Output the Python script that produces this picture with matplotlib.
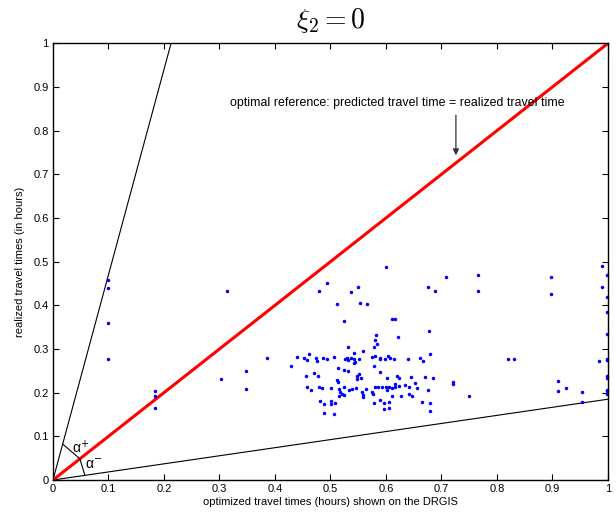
import matplotlib
matplotlib.use("Agg")
import matplotlib.pyplot as plt
import numpy as np

plt.rcParams['font.family'] = ['Liberation Sans', 'DejaVu Sans']
plt.rcParams['mathtext.fontset'] = 'cm'

# scatter data: (optimized time, realized time)
x_vals = [
    0.600, 0.709, 0.765, 0.765, 0.494, 0.480, 0.550, 0.537, 0.675, 0.689,
    0.512, 0.554, 0.565, 0.524, 0.611, 0.617, 0.678, 0.582, 0.580, 0.584,
    0.622, 0.579, 0.532, 0.680, 0.461, 0.558, 0.543,
    0.439, 0.452, 0.458, 0.474, 0.476, 0.486, 0.494, 0.507, 0.527, 0.529,
    0.532, 0.537, 0.542, 0.545, 0.551, 0.542, 0.575, 0.581, 0.589, 0.590,
    0.598, 0.604, 0.608, 0.614, 0.640, 0.661, 0.667, 0.429, 0.579, 0.524,
    0.532, 0.589, 0.470, 0.477, 0.456, 0.513, 0.551, 0.548, 0.555, 0.548,
    0.512, 0.514, 0.602, 0.620, 0.624, 0.645, 0.670, 0.684, 0.652, 0.721,
    0.721, 0.457, 0.464, 0.479, 0.485, 0.501, 0.516, 0.525, 0.533, 0.539,
    0.546, 0.518, 0.521, 0.516, 0.524, 0.557, 0.559, 0.558, 0.564, 0.575,
    0.576, 0.580, 0.586, 0.593, 0.600, 0.602, 0.606, 0.611, 0.616, 0.616,
    0.624, 0.634, 0.641, 0.655, 0.611, 0.627, 0.642, 0.646, 0.589, 0.596,
    0.596, 0.605, 0.605, 0.578, 0.482, 0.489, 0.501, 0.501, 0.508, 0.488,
    0.506, 0.675, 0.664, 0.680, 0.680, 0.750,
    0.819, 0.831, 0.898, 0.898, 0.910, 0.910, 0.924, 0.954, 0.954, 0.984,
    0.990, 0.990, 0.999, 0.999, 0.999, 0.999, 0.999, 0.999, 0.999, 0.999,
    0.999, 0.999, 0.999,
    0.100, 0.100, 0.100, 0.100, 0.313, 0.184, 0.184, 0.184, 0.386, 0.347,
    0.347, 0.303,
]
y_vals = [
    0.488, 0.464, 0.469, 0.433, 0.450, 0.433, 0.442, 0.430, 0.442, 0.432,
    0.404, 0.406, 0.404, 0.364, 0.368, 0.368, 0.341, 0.333, 0.320, 0.312,
    0.327, 0.305, 0.305, 0.289, 0.289, 0.295, 0.291,
    0.281, 0.279, 0.275, 0.279, 0.272, 0.280, 0.276, 0.282, 0.276, 0.280,
    0.275, 0.279, 0.278, 0.271, 0.277, 0.268, 0.282, 0.285, 0.276, 0.280,
    0.277, 0.283, 0.279, 0.277, 0.278, 0.279, 0.273, 0.261, 0.260, 0.252,
    0.250, 0.247, 0.245, 0.238, 0.237, 0.256, 0.243, 0.237, 0.234, 0.231,
    0.230, 0.224, 0.234, 0.237, 0.233, 0.236, 0.236, 0.234, 0.222, 0.224,
    0.220, 0.214, 0.207, 0.214, 0.210, 0.211, 0.208, 0.213, 0.207, 0.208,
    0.211, 0.202, 0.197, 0.192, 0.194, 0.201, 0.195, 0.189, 0.208, 0.201,
    0.196, 0.213, 0.214, 0.213, 0.212, 0.207, 0.214, 0.210, 0.214, 0.220,
    0.216, 0.218, 0.214, 0.211, 0.192, 0.193, 0.198, 0.192, 0.184, 0.176,
    0.163, 0.178, 0.166, 0.176, 0.182, 0.175, 0.181, 0.173, 0.176, 0.154,
    0.151, 0.205, 0.178, 0.176, 0.158, 0.192,
    0.276, 0.276, 0.465, 0.427, 0.227, 0.203, 0.211, 0.202, 0.179, 0.273,
    0.490, 0.443, 0.470, 0.418, 0.384, 0.335, 0.278, 0.274, 0.237, 0.233,
    0.207, 0.204, 0.197,
    0.458, 0.439, 0.360, 0.276, 0.432, 0.204, 0.192, 0.164, 0.279, 0.250,
    0.209, 0.232,
]

upper_slope = 4.70   # alpha+ boundary
lower_slope = 0.185  # alpha- boundary
ticks = [0, 0.1, 0.2, 0.3, 0.4, 0.5, 0.6, 0.7, 0.8, 0.9, 1]
tick_labels = ['0', '0.1', '0.2', '0.3', '0.4', '0.5', '0.6', '0.7', '0.8', '0.9', '1']

fig = plt.figure(figsize=(6.16, 5.12), dpi=100)
ax = fig.add_axes([0.086, 0.0625, 0.901, 0.853])

# boundary lines
ax.plot([0, 1 / upper_slope], [0, 1], color='black', lw=0.8)
ax.plot([0, 1], [0, lower_slope], color='black', lw=0.8)
# optimal reference
ax.plot([0, 1], [0, 1], color='red', lw=2.2)

# angle markers
ax.plot([0.0175, 0.0485], [0.0823, 0.0485], color='black', lw=0.8)
ax.plot([0.0485, 0.0575], [0.0485, 0.0106], color='black', lw=0.8)
ax.text(0.034, 0.075, 'α$^{+}$', fontsize=10, ha='left', va='center',
        math_fontfamily='dejavusans')
ax.text(0.058, 0.034, 'α$^{-}$', fontsize=10, ha='left', va='center',
        math_fontfamily='dejavusans')

ax.plot(x_vals, y_vals, linestyle='none', marker='.', color='blue', markersize=3, clip_on=False)

ax.text(0.621, 0.863, 'optimal reference: predicted travel time = realized travel time',
        ha='center', va='center', fontsize=8.9)
ax.annotate('', xy=(0.726, 0.737), xytext=(0.726, 0.842),
            arrowprops=dict(arrowstyle='-|>', color='#333333', lw=0.9, mutation_scale=9))

ax.set_xlim(0, 1)
ax.set_ylim(0, 1)
ax.set_xticks(ticks)
ax.set_xticklabels(tick_labels)
ax.set_yticks(ticks)
ax.set_yticklabels(tick_labels)
ax.tick_params(direction='in', top=True, right=True, length=4, labelsize=8, pad=3)
for s in ax.spines.values():
    s.set_linewidth(1.0)

ax.set_xlabel('optimized travel times (hours) shown on the DRGIS', fontsize=8, labelpad=2)
ax.set_ylabel('realized travel times (in hours)', fontsize=8, labelpad=6)
ax.set_title(r'$\xi_2 = 0$', fontsize=20, pad=11)

fig.savefig('out.png', dpi=100)
